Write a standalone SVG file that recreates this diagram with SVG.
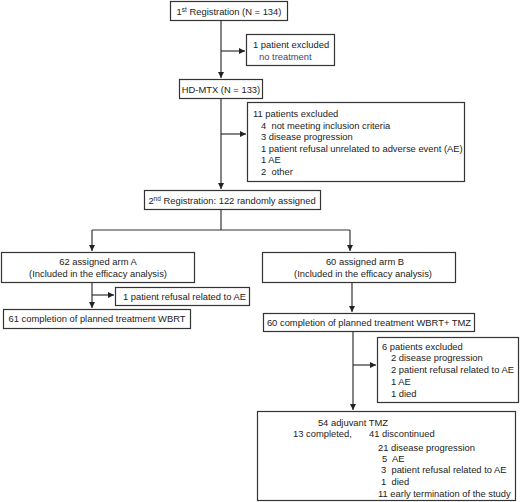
<svg xmlns="http://www.w3.org/2000/svg" width="520" height="502" viewBox="0 0 520 502">
<style>
.b{fill:#fff;stroke:#333;stroke-width:1.2}
.l{fill:none;stroke:#333;stroke-width:1.2}
text{font-family:"Liberation Sans",Arial,sans-serif;font-size:9.4px;fill:#222;white-space:pre}
.c{text-anchor:middle}
.blue{fill:#3a3f7a}
</style>
<defs>
<marker id="a" viewBox="0 0 6 6" refX="6" refY="3" markerWidth="6" markerHeight="6" markerUnits="userSpaceOnUse" orient="auto">
<path d="M0,0L6,3L0,6z" fill="#222"/>
</marker>
</defs>
<rect width="520" height="502" fill="#fff"/>
<g id="connectors">
<path class="l" d="M221,21V78" marker-end="url(#a)"/>
<path class="l" d="M221,51H245" marker-end="url(#a)"/>
<path class="l" d="M221,99V189" marker-end="url(#a)"/>
<path class="l" d="M221,134H246" marker-end="url(#a)"/>
<path class="l" d="M221,209V230"/>
<path class="l" d="M92,230H350"/>
<path class="l" d="M92,230V251" marker-end="url(#a)"/>
<path class="l" d="M350,230V251" marker-end="url(#a)"/>
<path class="l" d="M92,283V308" marker-end="url(#a)"/>
<path class="l" d="M92,295H114" marker-end="url(#a)"/>
<path class="l" d="M352,283V312" marker-end="url(#a)"/>
<path class="l" d="M353,331V410" marker-end="url(#a)"/>
<path class="l" d="M353,365H376" marker-end="url(#a)"/>
</g>
<g id="reg1">
<rect class="b" x="170.5" y="1.5" width="117" height="19"/>
<text x="229" y="15" class="c">1<tspan font-size="6.5px" dy="-3.5">st</tspan><tspan dy="3.5"> Registration (N = 134)</tspan></text>
</g>
<g id="excl1">
<rect class="b" x="246.5" y="34.5" width="88" height="31"/>
<text x="253" y="48">1 patient excluded</text>
<text x="259" y="60" class="blue">no treatment</text>
</g>
<g id="hdmtx">
<rect class="b" x="179.5" y="79.5" width="83" height="19"/>
<text x="221" y="93" class="c">HD-MTX (N = 133)</text>
</g>
<g id="excl2">
<rect class="b" x="247.5" y="102.5" width="217" height="79"/>
<text x="253" y="117">11 patients excluded</text>
<text x="261" y="129" xml:space="preserve">4  not meeting inclusion criteria</text>
<text x="261" y="140">3 disease progression</text>
<text x="261" y="152">1 patient refusal unrelated to adverse event (AE)</text>
<text x="261" y="163">1 AE</text>
<text x="261" y="175" xml:space="preserve">2  other</text>
</g>
<g id="reg2">
<rect class="b" x="144.5" y="190.5" width="176" height="19"/>
<text x="232" y="204" class="c">2<tspan font-size="6.5px" dy="-3.5">nd</tspan><tspan dy="3.5"> Registration: 122 randomly assigned</tspan></text>
</g>
<g id="armA">
<rect class="b" x="1.5" y="252.5" width="193" height="30"/>
<text x="98" y="265" class="c">62 assigned arm A</text>
<text x="98" y="277" class="c">(Included in the efficacy analysis)</text>
</g>
<g id="armB">
<rect class="b" x="262.5" y="252.5" width="193" height="30"/>
<text x="365" y="265" class="c">60 assigned arm B</text>
<text x="363" y="277" class="c">(Included in the efficacy analysis)</text>
</g>
<g id="refA">
<rect class="b" x="115.5" y="287.5" width="134" height="18"/>
<text x="123" y="300">1 patient refusal related to AE</text>
</g>
<g id="compA">
<rect class="b" x="3.5" y="309.5" width="187" height="19"/>
<text x="97" y="322" class="c">61 completion of planned treatment WBRT</text>
</g>
<g id="compB">
<rect class="b" x="263.5" y="313.5" width="211" height="18"/>
<text x="369" y="326" class="c">60 completion of planned treatment WBRT+ TMZ</text>
</g>
<g id="excl6">
<rect class="b" x="377.5" y="337.5" width="141" height="65"/>
<text x="382" y="350">6 patients excluded</text>
<text x="391" y="361">2 disease progression</text>
<text x="391" y="373">2 patient refusal related to AE</text>
<text x="391" y="385">1 AE</text>
<text x="391" y="397">1 died</text>
</g>
<g id="adj">
<rect class="b" x="257.5" y="411.5" width="258" height="89"/>
<text x="353" y="426" class="c">54 adjuvant TMZ</text>
<text x="293" y="437">13 completed,</text>
<text x="369" y="437">41 discontinued</text>
<text x="378" y="451">21 disease progression</text>
<text x="382" y="462" xml:space="preserve">5  AE</text>
<text x="381" y="473" xml:space="preserve">3  patient refusal related to AE</text>
<text x="381" y="485" xml:space="preserve">1  died</text>
<text x="378" y="497">11 early termination of the study</text>
</g>
</svg>
